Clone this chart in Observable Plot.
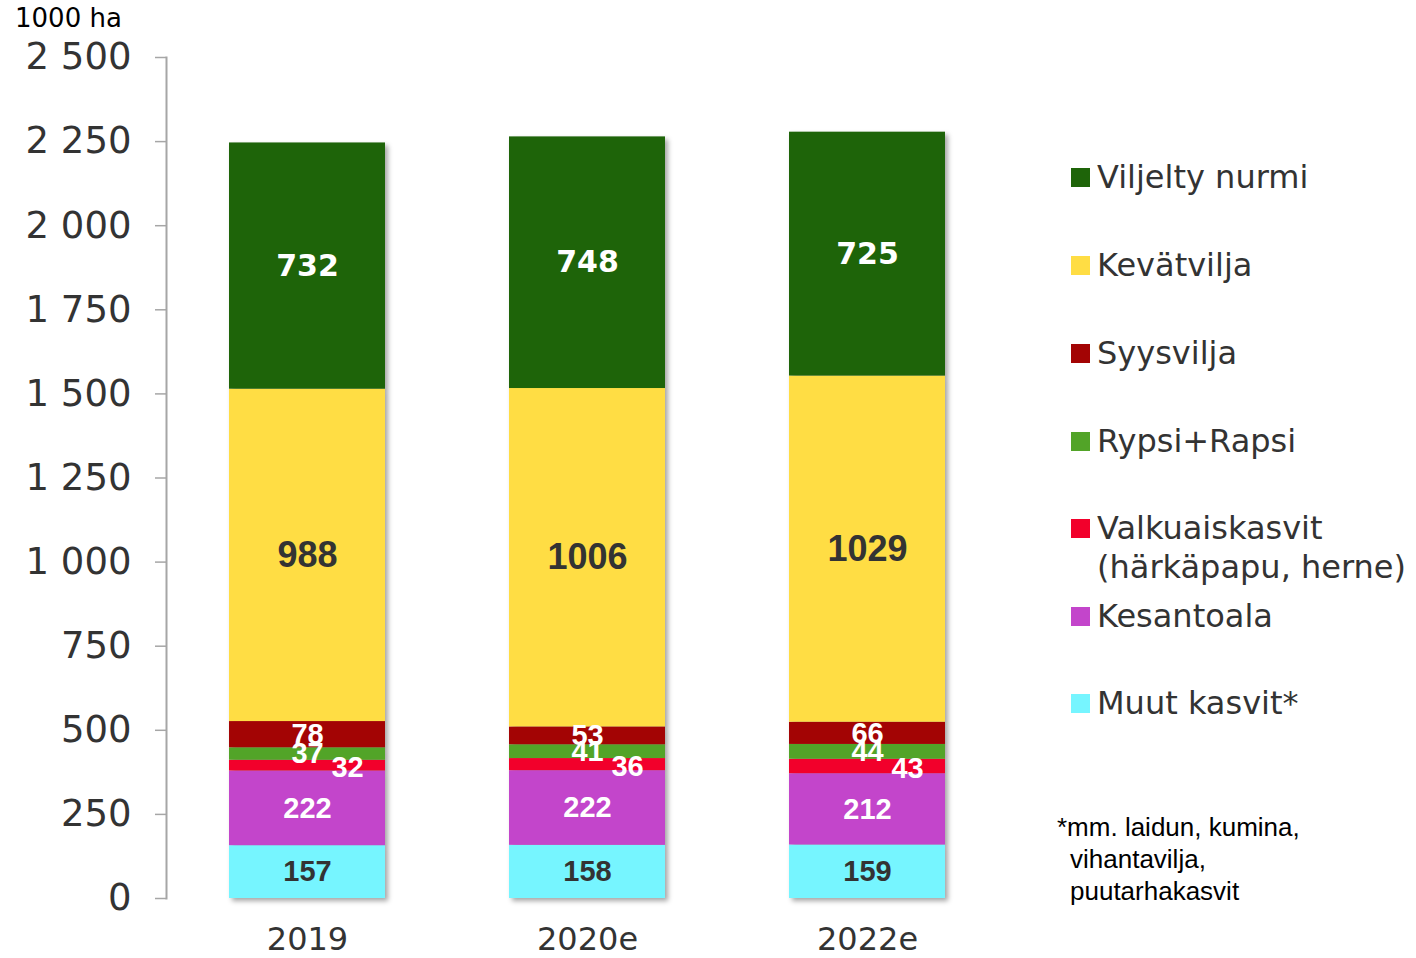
<!DOCTYPE html>
<html>
<head>
<meta charset="utf-8">
<script src="https://cdn.jsdelivr.net/npm/d3@7"></script>
<script src="https://cdn.jsdelivr.net/npm/@observablehq/plot@0.6"></script>
<style>
  html, body { margin: 0; padding: 0; background: #fff; }
  #wrap { position: relative; width: 1416px; height: 958px; overflow: hidden; }
  #chart { position: absolute; left: 0; top: 0; }
  .unit { position: absolute; left: 15px; top: 3px; font: 26px "DejaVu Sans", Verdana, sans-serif; color: #000; }
  .leg { position: absolute; left: 1071px; display: flex; align-items: flex-start; font: 32px "DejaVu Sans", Verdana, sans-serif; color: #333; line-height: 39px; white-space: nowrap; }
  .sw { width: 19px; height: 19px; margin-top: 10px; margin-right: 7px; flex: none; }
  .note { position: absolute; left: 1057px; top: 811px; font: 26px "Liberation Sans", Arial, sans-serif; color: #000; line-height: 32px; }
</style>
</head>
<body>
<div id="wrap">
  <div id="chart"></div>
  <div class="unit">1000 ha</div>
  <div id="legend"></div>
  <div class="note">*mm. laidun, kumina,<br><span style="padding-left:13px">vihantavilja,</span><br><span style="padding-left:13px">puutarhakasvit</span></div>
</div>
<script>
// ---- data ----
const years = ["2019", "2020e", "2022e"];
// stacking order: bottom first
const crops = ["Muut kasvit*", "Kesantoala", "Valkuaiskasvit", "Rypsi+Rapsi", "Syysvilja", "Kevätvilja", "Viljelty nurmi"];
const cropColors = ["#76F5FF", "#C345CB", "#F2002B", "#52A428", "#A30404", "#FFDD44", "#1E6409"];
const muutKasvit = [157, 158, 159];
const kesantoala = [222, 222, 212];
const valkuaiskasvit = [32, 36, 43];
const rypsiRapsi = [37, 41, 44];
const syysvilja = [78, 53, 66];
const kevatvilja = [988, 1006, 1029];
const viljeltyNurmi = [732, 748, 725];
const yTicks = [0, 250, 500, 750, 1000, 1250, 1500, 1750, 2000, 2250, 2500];

// legend (top to bottom)
const legendItems = [
  {name: "Viljelty nurmi", label: "Viljelty nurmi", y: 177.5},
  {name: "Kevätvilja", label: "Kevätvilja", y: 265.5},
  {name: "Syysvilja", label: "Syysvilja", y: 353.5},
  {name: "Rypsi+Rapsi", label: "Rypsi+Rapsi", y: 441},
  {name: "Valkuaiskasvit", label: "Valkuaiskasvit<br>(härkäpapu, herne)", y: 528},
  {name: "Kesantoala", label: "Kesantoala", y: 616},
  {name: "Muut kasvit*", label: "Muut kasvit*", y: 703.5}
];

const series = [muutKasvit, kesantoala, valkuaiskasvit, rypsiRapsi, syysvilja, kevatvilja, viljeltyNurmi];
const rows = [];
years.forEach((yr, i) => {
  crops.forEach((c, k) => rows.push({year: yr, crop: c, value: series[k][i]}));
});

const fmt = d => d3.format(",")(d).replace(/,/g, " ");
const stackOpts = (pred) => Plot.stackY({x: "year", y: "value", z: "crop", text: d => pred(d) ? String(d.value) : null});

const plot = Plot.plot({
  width: 1416,
  height: 958,
  marginTop: 57,
  marginBottom: 60,
  marginLeft: 166,
  marginRight: 408,
  x: {domain: years, paddingInner: 0.443, paddingOuter: 0.225, label: null},
  y: {domain: [0, 2500], label: null},
  color: {domain: crops, range: cropColors},
  marks: [
    Plot.barY(rows, {x: "year", y: "value", fill: "crop", z: "crop"}),
    Plot.frame({anchor: "left", stroke: "#a6a6a6", strokeWidth: 2}),
    Plot.axisY({ticks: yTicks, tickFormat: fmt, tickSize: 11, tickPadding: 24, fontSize: 37,
      fontFamily: "DejaVu Sans, Verdana, sans-serif", fill: "#333", stroke: "#a6a6a6", strokeWidth: 1.5, label: null}),
    Plot.axisX({tickSize: 0, tickPadding: 29, fontSize: 32, fontFamily: "DejaVu Sans, Verdana, sans-serif", fill: "#333", label: null}),
    // top labels (Viljelty nurmi)
    Plot.text(rows, {...stackOpts(d => d.crop === "Viljelty nurmi"), fill: "white", fontSize: 30, fontWeight: "bold",
      fontFamily: "DejaVu Sans, Verdana, sans-serif"}),
    // Kevätvilja
    Plot.text(rows, {...stackOpts(d => d.crop === "Kevätvilja"), fill: "#333", fontSize: 36, fontWeight: "bold",
      fontFamily: "Liberation Sans, Arial, sans-serif"}),
    // Muut kasvit
    Plot.text(rows, {...stackOpts(d => d.crop === "Muut kasvit*"), fill: "#333", fontSize: 29, fontWeight: "bold",
      fontFamily: "Liberation Sans, Arial, sans-serif"}),
    // white small labels
    Plot.text(rows, {...stackOpts(d => ["Kesantoala", "Rypsi+Rapsi", "Syysvilja"].includes(d.crop)), fill: "white", fontSize: 29, fontWeight: "bold",
      fontFamily: "Liberation Sans, Arial, sans-serif"}),
    // Valkuaiskasvit offset to the right
    Plot.text(rows, {...stackOpts(d => d.crop === "Valkuaiskasvit"), fill: "white", fontSize: 29, fontWeight: "bold", dx: 40, dy: 2,
      fontFamily: "Liberation Sans, Arial, sans-serif"})
  ]
});
document.getElementById("chart").appendChild(plot);
const barG = plot.querySelector('g[aria-label="bar"]');
if (barG) barG.style.filter = "drop-shadow(3px 3px 2.5px rgba(0,0,0,0.35))";

const leg = document.getElementById("legend");
legendItems.forEach(it => {
  const div = document.createElement("div");
  div.className = "leg";
  div.style.top = (it.y - 19.5) + "px";
  const sw = document.createElement("div");
  sw.className = "sw";
  sw.style.background = cropColors[crops.indexOf(it.name)];
  const tx = document.createElement("div");
  tx.innerHTML = it.label;
  div.appendChild(sw);
  div.appendChild(tx);
  leg.appendChild(div);
});
</script>
</body>
</html>
